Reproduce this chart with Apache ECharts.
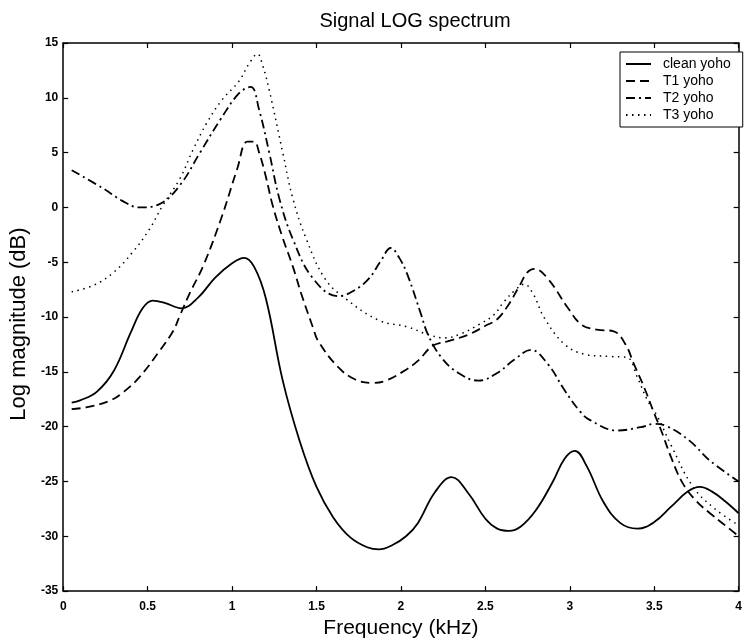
<!DOCTYPE html>
<html>
<head>
<meta charset="utf-8">
<script src="https://cdn.jsdelivr.net/npm/echarts@6/dist/echarts.min.js"></script>
<style>
  html, body { margin: 0; padding: 0; background: #fff; }
  #chart { width: 745px; height: 644px; }
</style>
</head>
<body>
<div id="chart"></div>
<script>
// ---- data ----
const titleText = 'Signal LOG spectrum';
const xTitle = 'Frequency (kHz)';
const yTitle = 'Log magnitude (dB)';
const seriesNames = ['clean yoho', 'T1 yoho', 'T2 yoho', 'T3 yoho'];

const cleanFreq = [0.05,0.10,0.20,0.30,0.40,0.47,0.53,0.60,0.70,0.80,0.90,1.00,1.07,1.13,1.20,1.30,1.40,1.50,1.60,1.70,1.80,1.87,1.95,2.03,2.10,2.20,2.30,2.40,2.50,2.57,2.64,2.71,2.80,2.90,2.97,3.03,3.10,3.20,3.30,3.40,3.50,3.60,3.70,3.77,3.84,3.92,4.00];
const cleanMag  = [-17.8,-17.6,-16.8,-14.9,-11.4,-9.2,-8.5,-8.7,-9.2,-8.2,-6.4,-5.1,-4.6,-5.4,-8.3,-15.8,-21.3,-25.5,-28.3,-30.1,-31.0,-31.2,-30.8,-30.0,-28.8,-26.0,-24.6,-26.1,-28.4,-29.3,-29.5,-29.1,-27.6,-25.0,-22.9,-22.2,-23.6,-26.9,-28.8,-29.3,-28.7,-27.3,-25.9,-25.5,-25.9,-26.8,-27.9];

const t1Freq = [0.05,0.15,0.28,0.36,0.45,0.57,0.65,0.69,0.75,0.83,0.94,1.03,1.09,1.13,1.16,1.20,1.24,1.30,1.36,1.41,1.48,1.51,1.63,1.73,1.83,1.91,2.03,2.10,2.19,2.28,2.40,2.50,2.57,2.64,2.70,2.75,2.79,2.87,2.99,3.07,3.16,3.26,3.33,3.38,3.44,3.50,3.54,3.60,3.67,3.75,3.83,3.92,4.00];
const t1Mag  = [-18.4,-18.2,-17.6,-16.8,-15.5,-13.1,-11.3,-9.9,-7.8,-5.3,-0.8,3.5,6.0,6.0,5.0,2.8,0.2,-2.8,-5.4,-7.9,-11.0,-12.2,-14.6,-15.7,-16.0,-15.8,-14.8,-14.0,-12.6,-12.2,-11.6,-10.8,-10.2,-8.8,-7.2,-5.9,-5.6,-6.5,-9.2,-10.7,-11.15,-11.3,-12.5,-14.3,-16.4,-18.8,-20.3,-22.8,-25.2,-26.8,-27.9,-29.0,-30.0];

const t2Freq = [0.05,0.24,0.35,0.45,0.57,0.69,0.81,0.93,1.04,1.11,1.16,1.22,1.28,1.36,1.48,1.63,1.72,1.81,1.88,1.94,1.99,2.04,2.12,2.16,2.24,2.34,2.46,2.57,2.67,2.77,2.87,2.97,3.06,3.12,3.28,3.42,3.50,3.58,3.71,3.83,4.00];
const t2Mag  = [3.4,1.7,0.6,0.0,0.3,2.0,5.0,8.0,10.4,11.0,8.9,5.0,0.8,-2.9,-6.5,-8.1,-7.6,-6.5,-4.9,-3.7,-4.6,-6.2,-9.8,-11.6,-13.7,-15.1,-15.8,-15.1,-13.9,-13.0,-14.3,-16.7,-18.6,-19.4,-20.35,-20.05,-19.75,-20.0,-21.3,-23.1,-25.0];

const t3Freq = [0.05,0.18,0.30,0.41,0.51,0.59,0.69,0.77,0.85,0.94,1.04,1.10,1.15,1.18,1.22,1.30,1.36,1.44,1.55,1.67,1.87,2.04,2.16,2.26,2.36,2.46,2.55,2.61,2.68,2.73,2.78,2.85,2.97,3.09,3.24,3.34,3.40,3.46,3.52,3.60,3.73,3.86,4.00];
const t3Mag  = [-7.7,-7.1,-5.9,-4.1,-2.0,0.2,2.6,5.3,7.7,9.8,11.5,13.1,14.0,13.0,10.7,5.0,0.8,-2.9,-6.5,-8.3,-10.3,-10.9,-11.6,-11.9,-11.5,-10.7,-9.8,-8.6,-7.5,-7.0,-7.8,-10.1,-12.5,-13.4,-13.6,-13.7,-15.5,-17.6,-19.1,-21.7,-25.5,-27.5,-29.0];

const xMin = 0, xMax = 4, xStep = 0.5;
const yMin = -35, yMax = 15, yStep = 5;

// ---- chart ----
const zip = (xs, ys) => xs.map((x, i) => [x, ys[i]]);
const FONT = '"Liberation Sans", Arial, Helvetica, sans-serif';

const chart = echarts.init(document.getElementById('chart'), null, { renderer: 'canvas' });

const axisCommon = {
  type: 'value',
  axisLine: { show: true, onZero: false, lineStyle: { color: '#000', width: 1.5 } },
  axisTick: { show: true, inside: true, length: 5, lineStyle: { color: '#000', width: 1.2 } },
  splitLine: { show: false }
};

const lineSeries = (name, xs, ys, type, width) => ({
  name: name,
  type: 'line',
  data: zip(xs, ys),
  xAxisIndex: 0,
  yAxisIndex: 0,
  smooth: 0.4,
  symbol: 'none',
  showSymbol: false,
  lineStyle: { color: '#000', width: width, type: type },
  itemStyle: { color: '#000' },
  animation: false
});

chart.setOption({
  animation: false,
  backgroundColor: '#fff',
  textStyle: { fontFamily: FONT },
  title: {
    text: titleText,
    left: 410,
    textAlign: 'center',
    top: 6,
    textStyle: { fontFamily: FONT, fontSize: 20, fontWeight: 'normal', color: '#000' }
  },
  grid: { left: 63, right: 3, top: 43, bottom: 49, containLabel: false },
  xAxis: [
    Object.assign({}, axisCommon, {
      position: 'bottom', min: xMin, max: xMax, interval: xStep,
      name: xTitle, nameLocation: 'middle', nameGap: 21,
      nameTextStyle: { fontFamily: FONT, fontSize: 21, color: '#000' },
      axisLabel: { margin: 10, fontFamily: FONT, fontSize: 12, fontWeight: 'bold', color: '#000', showMaxLabel: true }
    }),
    Object.assign({}, axisCommon, {
      position: 'top', min: xMin, max: xMax, interval: xStep,
      axisLabel: { show: false }
    })
  ],
  yAxis: [
    Object.assign({}, axisCommon, {
      position: 'left', min: yMin, max: yMax, interval: yStep,
      name: yTitle, nameLocation: 'middle', nameGap: 25, nameRotate: 90,
      nameTextStyle: { fontFamily: FONT, fontSize: 22, color: '#000', padding: [0, 14, 0, 0] },
      axisLabel: { margin: 5, fontFamily: FONT, fontSize: 12, fontWeight: 'bold', color: '#000' }
    }),
    Object.assign({}, axisCommon, {
      position: 'right', min: yMin, max: yMax, interval: yStep,
      axisLabel: { show: false }
    })
  ],
  legend: {
    data: seriesNames,
    orient: 'vertical',
    left: 620,
    top: 52,
    padding: [5, 12, 5, 5],
    itemWidth: 25,
    itemHeight: 14,
    itemGap: 3,
    backgroundColor: '#fff',
    borderColor: '#000',
    borderWidth: 1,
    itemStyle: { color: 'rgba(0,0,0,0)', borderWidth: 0, opacity: 0 },
    textStyle: { fontFamily: FONT, fontSize: 14, color: '#000', padding: [0, 0, 0, 7] }
  },
  series: [
    lineSeries(seriesNames[0], cleanFreq, cleanMag, 'solid', 1.8),
    lineSeries(seriesNames[1], t1Freq, t1Mag, [9, 5], 1.8),
    lineSeries(seriesNames[2], t2Freq, t2Mag, [9, 4, 2, 4], 1.8),
    lineSeries(seriesNames[3], t3Freq, t3Mag, [1.5, 4.5], 1.5)
  ]
});
</script>
</body>
</html>
